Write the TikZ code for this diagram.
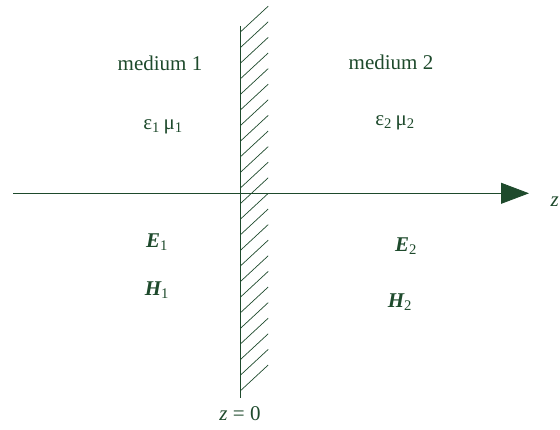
\documentclass[tikz,border=0pt]{standalone}
\usepackage{fontspec}
\setmainfont{Liberation Serif}
\usetikzlibrary{arrows.meta}
\definecolor{wallgreen}{RGB}{30,74,44}
\begin{document}
\begin{tikzpicture}[x=1pt, y=-1pt, inner sep=1pt,
    lbl/.style={text=wallgreen, font=\fontsize{21}{25}\selectfont},
    hatch/.style={draw=wallgreen, line width=0.7pt}]
   \useasboundingbox (0,0) rectangle (560,430);
   % labels of the two media
   \node[lbl] (M1) at (160,63) {medium 1};
   \node[lbl] (M2) at (391,62) {medium 2};
   \node[lbl] (P1) at (163,127) {ε\textsubscript{1}\,μ\textsubscript{1}};
   \node[lbl] (P2) at (395,123) {ε\textsubscript{2}\,μ\textsubscript{2}};
   \node[lbl] (E1) at (157,242) {{\bfseries\itshape E}\textsubscript{1}};
   \node[lbl] (H1) at (157,290) {{\bfseries\itshape H}\textsubscript{1}};
   \node[lbl] (E2) at (406,246) {{\bfseries\itshape E}\textsubscript{2}};
   \node[lbl] (H2) at (400,302) {{\bfseries\itshape H}\textsubscript{2}};
   % axis
   \coordinate (A0) at (13,193.3);
   \coordinate (A1) at (529,193.3);
   \draw[wallgreen, line width=0.8pt, -{Triangle[length=28pt, width=21pt]}] (A0) -- (A1);
   \node[lbl, anchor=east, inner sep=0pt] (Z) at (559,202) {\itshape z};
   % wall
   \coordinate (W0) at (240.7,26);
   \coordinate (W1) at (240.7,398);
   \draw[wallgreen, line width=1.2pt] (W0) -- (W1);
   \foreach \i in {0,...,23}
      \draw[hatch] (240.7,31.7+15.6*\i) -- ++(27.5,-25.5);
   \node[lbl] (Z0) at (240,414) {\itshape z\upshape\ = 0};
\end{tikzpicture}
\end{document}
